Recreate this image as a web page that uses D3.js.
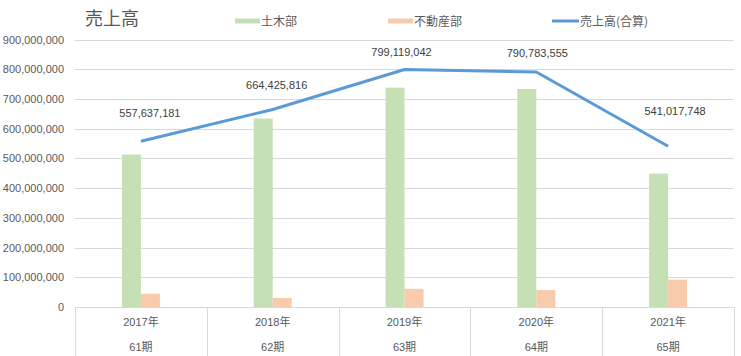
<!DOCTYPE html>
<html>
<head>
<meta charset="utf-8">
<script src="https://cdn.jsdelivr.net/npm/d3@7"></script>
<style>
  html, body { margin: 0; padding: 0; background: #fff; }
  svg { display: block; font-family: "Liberation Sans", "Noto Sans CJK JP", sans-serif; }
</style>
</head>
<body>
<svg id="chart" width="741" height="356"></svg>
<script>
// ---- data ----
const years = ["2017年", "2018年", "2019年", "2020年", "2021年"];
const periods = ["61期", "62期", "63期", "64期", "65期"];
const civil = [513000000, 634000000, 738000000, 733500000, 449000000];        // 土木部
const realEstate = [44637181, 30425816, 61119042, 57283555, 92017748];        // 不動産部
const totalSales = [557637181, 664425816, 799119042, 790783555, 541017748];   // 売上高(合算)
const yTicks = [0, 100000000, 200000000, 300000000, 400000000, 500000000, 600000000, 700000000, 800000000, 900000000];
const seriesNames = ["土木部", "不動産部", "売上高(合算)"];
const chartTitle = "売上高";

// ---- layout ----
const svg = d3.select("#chart");
const pLeft = 75, pRight = 734, pTop = 39.5, pBottom = 307;
const grey = "#595959", gridCol = "#d9d9d9";
const colGreen = "#c5e0b4", colOrange = "#f8cbad", colBlue = "#5b9bd5";

const x = d3.scaleBand().domain(years).range([pLeft, pRight]).padding(0);
const y = d3.scaleLinear().domain([0, 900000000]).range([pBottom, pTop]);
const barW = 19;
const inner = d3.scaleBand().domain([0, 1]).range([-barW, barW]).padding(0);
const cx = d => x(d) + x.bandwidth() / 2;

// gridlines
svg.append("g").selectAll("line").data(yTicks.filter(v => v > 0)).join("line")
  .attr("x1", pLeft).attr("x2", pRight)
  .attr("y1", d => Math.round(y(d)) + 0.5).attr("y2", d => Math.round(y(d)) + 0.5)
  .attr("stroke", gridCol).attr("stroke-width", 1);

// y axis labels
const fmt = d3.format(",");
svg.append("g").selectAll("text").data(yTicks).join("text")
  .attr("x", 64).attr("y", d => y(d) + 4)
  .attr("text-anchor", "end").attr("font-size", 11).attr("fill", grey)
  .text(d => fmt(d));

// bars
const groups = svg.append("g").selectAll("g").data(years).join("g")
  .attr("transform", d => `translate(${cx(d)},0)`);
groups.append("rect")
  .attr("x", inner(0)).attr("width", inner.bandwidth())
  .attr("y", (d, i) => y(civil[i])).attr("height", (d, i) => y(0) - y(civil[i]))
  .attr("fill", colGreen);
groups.append("rect")
  .attr("x", inner(1)).attr("width", inner.bandwidth())
  .attr("y", (d, i) => y(realEstate[i])).attr("height", (d, i) => y(0) - y(realEstate[i]))
  .attr("fill", colOrange);

// category axis (multi-level)
const axisG = svg.append("g");
axisG.append("line").attr("x1", pLeft).attr("x2", pRight).attr("y1", pBottom + 0.5).attr("y2", pBottom + 0.5)
  .attr("stroke", gridCol);
const bounds = years.map(d => x(d)).concat([pRight]);
axisG.selectAll("line.sep").data(bounds).join("line").attr("class", "sep")
  .attr("x1", d => Math.round(d) + 0.5).attr("x2", d => Math.round(d) + 0.5)
  .attr("y1", pBottom).attr("y2", 356).attr("stroke", gridCol);
axisG.selectAll("text.yr").data(years).join("text").attr("class", "yr")
  .attr("x", d => cx(d)).attr("y", 326).attr("text-anchor", "middle")
  .attr("font-size", 11).attr("fill", grey).text(d => d);
axisG.selectAll("text.pd").data(periods).join("text").attr("class", "pd")
  .attr("x", (d, i) => cx(years[i])).attr("y", 351).attr("text-anchor", "middle")
  .attr("font-size", 11).attr("fill", grey).text(d => d);

// line
const line = d3.line().x((d, i) => cx(years[i])).y(d => y(d));
svg.append("path").datum(totalSales).attr("d", line)
  .attr("fill", "none").attr("stroke", colBlue).attr("stroke-width", 3)
  .attr("stroke-linejoin", "round");

// data labels (manually positioned in the reference)
const labelNudge = [[9, -28], [4, -25], [-3, -17], [1, -19], [7, -35]];
svg.append("g").selectAll("text").data(totalSales).join("text")
  .attr("x", (d, i) => cx(years[i]) + labelNudge[i][0])
  .attr("y", (d, i) => y(d) + labelNudge[i][1] + 4)
  .attr("text-anchor", "middle").attr("font-size", 11).attr("fill", "#404040")
  .text(d => fmt(d));

// title
svg.append("text").attr("x", 85).attr("y", 25).attr("font-size", 18)
  .attr("fill", grey).attr("font-family", "Noto Sans CJK JP").text(chartTitle);

// legend
const legendX = [235, 388, 552];
const leg = svg.append("g").attr("font-size", 12).attr("fill", grey);
leg.append("rect").attr("x", legendX[0]).attr("y", 18.5).attr("width", 25).attr("height", 5).attr("fill", colGreen);
leg.append("rect").attr("x", legendX[1]).attr("y", 18.5).attr("width", 25).attr("height", 5).attr("fill", colOrange);
leg.append("line").attr("x1", legendX[2]).attr("x2", legendX[2] + 27).attr("y1", 21).attr("y2", 21)
  .attr("stroke", colBlue).attr("stroke-width", 3);
leg.selectAll("text").data(seriesNames).join("text")
  .attr("x", (d, i) => legendX[i] + (i === 2 ? 28 : 26)).attr("y", 25.5)
  .attr("font-family", "Noto Sans CJK JP").text(d => d);
</script>
</body>
</html>
